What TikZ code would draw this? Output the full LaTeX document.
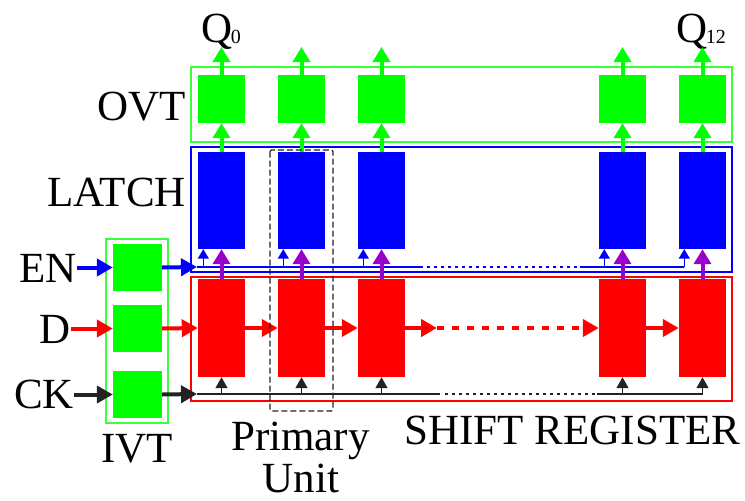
\documentclass[tikz,border=0pt]{standalone}
\usepackage{fontspec}
\setmainfont{Liberation Serif}
\newfontfamily\labelfont{Liberation Serif}
\usetikzlibrary{arrows.meta}
\definecolor{gr}{RGB}{0,255,0}
\definecolor{grframe}{RGB}{60,255,60}
\definecolor{bl}{RGB}{0,0,255}
\definecolor{rd}{RGB}{255,0,0}
\definecolor{pu}{RGB}{153,0,204}
\definecolor{ink}{RGB}{34,34,34}
\begin{document}
\begin{tikzpicture}[x=1pt,y=-1pt,
  lbl/.style={inner sep=0pt,font=\labelfont\fontsize{43}{43}\selectfont},
  unit/.style={inner sep=0pt,minimum width=47pt,draw=none},
  ovtunit/.style={unit,fill=gr,minimum height=48pt},
  latchunit/.style={unit,fill=bl,minimum height=97pt},
  regunit/.style={unit,fill=rd,minimum height=98pt},
  ivtunit/.style={inner sep=0pt,fill=gr,minimum width=49pt,minimum height=47pt},
  frame/.style={line width=1.5pt},
  bigtip/.style={-{Triangle[length=16pt,width=17pt]}},
  thick4/.style={line width=4pt},
  garrow/.style={thick4,gr,-{Triangle[length=15pt,width=17pt]}},
  parrow/.style={thick4,pu,-{Triangle[length=15pt,width=17pt]}},
  inarrow/.style={thick4,bigtip},
  enarrow/.style={line width=1.5pt,bl,-{Triangle[length=9.5pt,width=11pt]}},
  ckarrow/.style={line width=1.5pt,ink,-{Triangle[length=11pt,width=12pt]}},
  busline/.style={line width=1.5pt},
  busdots/.style={line width=1.5pt,dash pattern=on 3pt off 4pt},
  unitframe/.style={line width=1.2pt,ink,dash pattern=on 6pt off 3pt,rounded corners=1.5pt}
]
\useasboundingbox (0,0) rectangle (745,501);

% group frames
\draw[frame,grframe] (191,67) rectangle (732,142);
\draw[frame,bl] (191,147) rectangle (732,272);
\draw[frame,rd] (191,277) rectangle (732,401);
\draw[frame,grframe] (106,239) rectangle (168,423);

% input buffers
\node[ivtunit] (i1) at (137.5,267.5) {};
\node[ivtunit] (i2) at (137.5,328.5) {};
\node[ivtunit] (i3) at (137.5,394.5) {};

% stages: output buffer, latch, shift-register cell
\foreach \i/\x in {1/221.5,2/301.5,3/381.5,4/622.5,5/702.5} {
  \node[ovtunit] (o\i) at (\x,99) {};
  \node[latchunit] (l\i) at (\x,200.5) {};
  \node[regunit] (r\i) at (\x,328) {};
  \path ([xshift=5.5pt]l\i.south west) coordinate (lt\i);
  \coordinate (q\i) at (\x,47);
}

% labels
\node[lbl,anchor=base east] (en) at (77,282) {EN};
\node[lbl,anchor=base east] (d) at (71,343) {D};
\node[lbl,anchor=base east] (ck) at (74,408) {CK};
\node[lbl,anchor=base east] (ovt) at (186,120) {OVT};
\node[lbl,anchor=base east] (latch) at (186,206) {LATCH};
\node[lbl,anchor=base] (ivt) at (137,462) {IVT};
\node[lbl,anchor=base] (prim) at (300.5,450) {Primary};
\node[lbl,anchor=base] (unitlbl) at (301,492) {Unit};
\node[lbl,anchor=base] (sr) at (572.5,444) {SHIFT REGISTER};
\node[lbl,anchor=base west] (qa) at (201,42) {Q\kern-1.5pt\raisebox{-1.5pt}{\fontsize{20}{20}\selectfont 0}};
\node[lbl,anchor=base west] (qb) at (676,42) {Q\kern-1.5pt\raisebox{-1.5pt}{\fontsize{20}{20}\selectfont 12}};

% buses
\coordinate (enbus) at (197,267);
\coordinate (ckbus) at (197,394);
\coordinate (ena) at (423,267);
\coordinate (enb) at (427,267);
\coordinate (enc) at (577,267);
\coordinate (end) at (580,267);
\coordinate (cka) at (440,394);
\coordinate (ckb) at (445,394);
\coordinate (ckc) at (597,394);
\draw[busline,bl] (enbus) -- (ena);
\draw[busdots,bl] (enb) -- (enc);
\draw[busline,bl] (end) -- (lt5 |- enbus);
\draw[busline,ink] (ckbus) -- (cka);
\draw[busdots,ink] (ckb) -- (ckc);
\draw[busline,ink] (ckc) -- (r5.south |- ckbus);

% inputs through the input buffers
\draw[inarrow,bl] (en.east |- i1) -- (i1.west);
\draw[inarrow,rd] (d.east |- i2) -- (i2.west);
\draw[inarrow,ink] (ck.east |- i3) -- (i3.west);
\draw[inarrow,bl] (i1.east) -- (enbus);
\draw[inarrow,rd] (i2.east) -- (r1.west);
\draw[inarrow,ink] (i3.east) -- (ckbus);

% shift chain
\coordinate (rd1) at (437,328);
\draw[inarrow,rd] (r1.east) -- (r2.west);
\draw[inarrow,rd] (r2.east) -- (r3.west);
\draw[inarrow,rd] (r3.east) -- (rd1);
\draw[inarrow,rd,dash pattern=on 7pt off 8pt] (rd1) -- (r4.west);
\draw[inarrow,rd] (r4.east) -- (r5.west);

% per-stage connections
\foreach \i in {1,...,5} {
  \draw[garrow] (l\i.north) -- (o\i.south);
  \draw[garrow] (o\i.north) -- (q\i);
  \draw[parrow] (r\i.north) -- (l\i.south);
  \draw[ckarrow] (r\i.south |- ckbus) -- (r\i.south);
  \draw[enarrow] (lt\i |- enbus) -- (lt\i);
}

% primary unit outline
\draw[unitframe] (270,150) rectangle (333,411);
\end{tikzpicture}
\end{document}
